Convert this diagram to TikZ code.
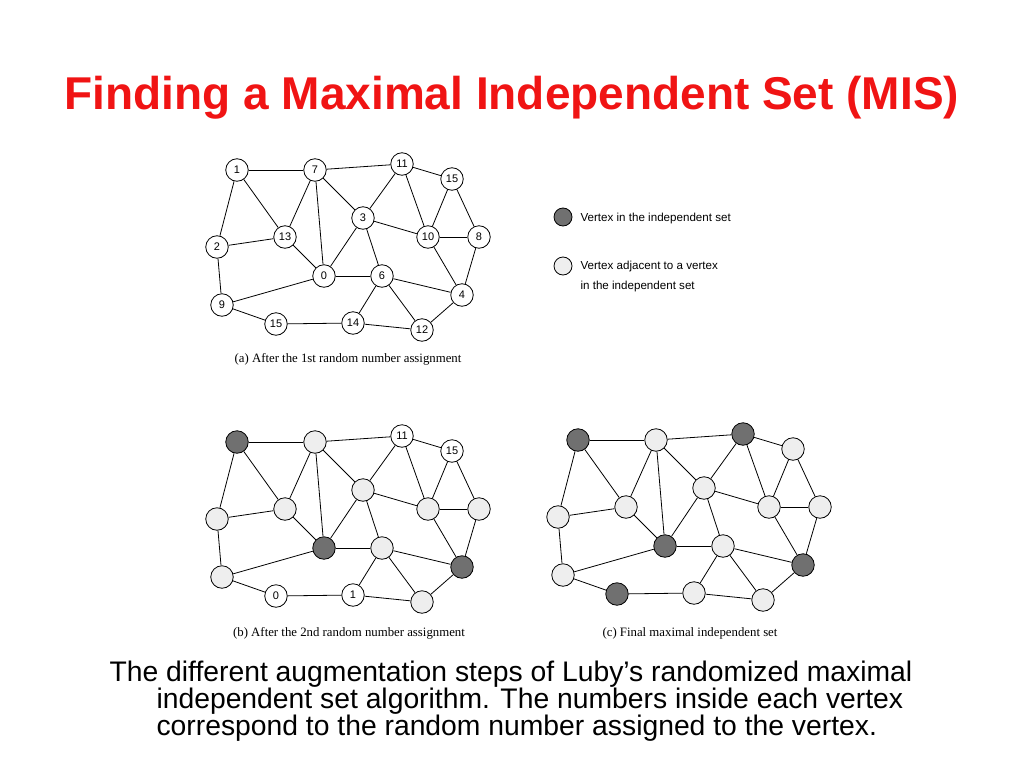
\documentclass[tikz,border=0pt]{standalone}
\usepackage{fontspec}
\setmainfont{Liberation Sans}
\newfontfamily\serifcap{Liberation Serif}
\definecolor{misred}{RGB}{240,20,20}
\definecolor{indep}{RGB}{112,112,112}
\definecolor{adjac}{RGB}{238,238,238}
\tikzset{
  vtx/.style={circle,draw=black,line width=0.8pt,fill=white,minimum size=22.5pt,inner sep=0pt,font=\fontsize{11}{11}\selectfont},
  inset/.style={vtx,fill=indep},
  adjset/.style={vtx,fill=adjac},
  edge/.style={line width=0.8pt},
  subcap/.style={font=\serifcap\fontsize{12.8}{12.8}\selectfont}
}
% vertex positions of graph (a), pixel units
\newcommand{\graphverts}[4]{%
  % #1 prefix, #2 x shift, #3 y shift, #4 list of name/style/label
  \begin{scope}[shift={(#2,#3)}]
  \foreach \n/\s/\l in {#4}{
    \ifcase\n\or
      \node[\s] (#1\n) at (237,170) {\l};\or
      \node[\s] (#1\n) at (315,170) {\l};\or
      \node[\s] (#1\n) at (402,164) {\l};\or
      \node[\s] (#1\n) at (452,179) {\l};\or
      \node[\s] (#1\n) at (363,218) {\l};\or
      \node[\s] (#1\n) at (285,237) {\l};\or
      \node[\s] (#1\n) at (428,237) {\l};\or
      \node[\s] (#1\n) at (479,237) {\l};\or
      \node[\s] (#1\n) at (217,247) {\l};\or
      \node[\s] (#1\n) at (324,276) {\l};\or
      \node[\s] (#1\n) at (382,276) {\l};\or
      \node[\s] (#1\n) at (462,295) {\l};\or
      \node[\s] (#1\n) at (222,305) {\l};\or
      \node[\s] (#1\n) at (276,324) {\l};\or
      \node[\s] (#1\n) at (353,323) {\l};\or
      \node[\s] (#1\n) at (422,330) {\l};\fi
  }
  \end{scope}
  \begin{scope}[on background layer]
  \foreach \a/\b in {1/2,1/9,1/6,2/6,2/10,2/5,2/3,3/5,3/7,3/4,4/7,4/8,5/7,5/10,5/11,7/8,7/12,8/12,9/6,9/13,6/10,10/11,10/13,11/12,11/15,11/16,13/14,14/15,15/16,16/12}
    \draw[edge] (#1\a) -- (#1\b);
  \end{scope}
}
\usetikzlibrary{backgrounds}
\begin{document}
\begin{tikzpicture}[x=1pt,y=-1pt]
\useasboundingbox (0,0) rectangle (1024,768);

\node[anchor=west,text=misred,font=\bfseries\fontsize{46}{46}\selectfont] (title) at (61,98) {Finding a Maximal Independent Set (MIS)};

% (a) first random number assignment
\graphverts{a}{0}{0}{1/vtx/1,2/vtx/7,3/vtx/11,4/vtx/15,5/vtx/3,6/vtx/13,7/vtx/10,8/vtx/8,9/vtx/2,10/vtx/0,11/vtx/6,12/vtx/4,13/vtx/9,14/vtx/15,15/vtx/14,16/vtx/12}
\node[subcap] (capa) at (348,359) {(a) After the 1st random number assignment};

% (b) second random number assignment
\graphverts{b}{0}{272}{1/inset/,2/adjset/,3/vtx/11,4/vtx/15,5/adjset/,6/adjset/,7/adjset/,8/adjset/,9/adjset/,10/inset/,11/adjset/,12/inset/,13/adjset/,14/vtx/0,15/vtx/1,16/adjset/}
\node[subcap] (capb) at (349,633) {(b) After the 2nd random number assignment};

% (c) final set
\graphverts{c}{341}{270}{1/inset/,2/adjset/,3/inset/,4/adjset/,5/adjset/,6/adjset/,7/adjset/,8/adjset/,9/adjset/,10/inset/,11/adjset/,12/inset/,13/adjset/,14/inset/,15/adjset/,16/adjset/}
\node[subcap] (capc) at (690,633) {(c) Final maximal independent set};

% legend
\node[inset,minimum size=18pt] (legin) at (563,217) {};
\node[anchor=west,font=\fontsize{11.6}{11.6}\selectfont] (legintxt) at (577,218) {Vertex in the independent set};
\node[adjset,minimum size=18pt] (legadj) at (563,266) {};
\node[anchor=north west,align=left,font=\fontsize{11.6}{20}\selectfont] (legadjtxt) at (577,258) {Vertex adjacent to a vertex\\in the independent set};

% caption
\node[anchor=north west,align=left,font=\fontsize{28.3}{27}\selectfont] (caption) at (106,657)
  {The different augmentation steps of Luby's randomized maximal\\
   \hspace*{47pt}independent set algorithm. The numbers inside each vertex\\
   \hspace*{47pt}correspond to the random number assigned to the vertex.};
\end{tikzpicture}
\end{document}
